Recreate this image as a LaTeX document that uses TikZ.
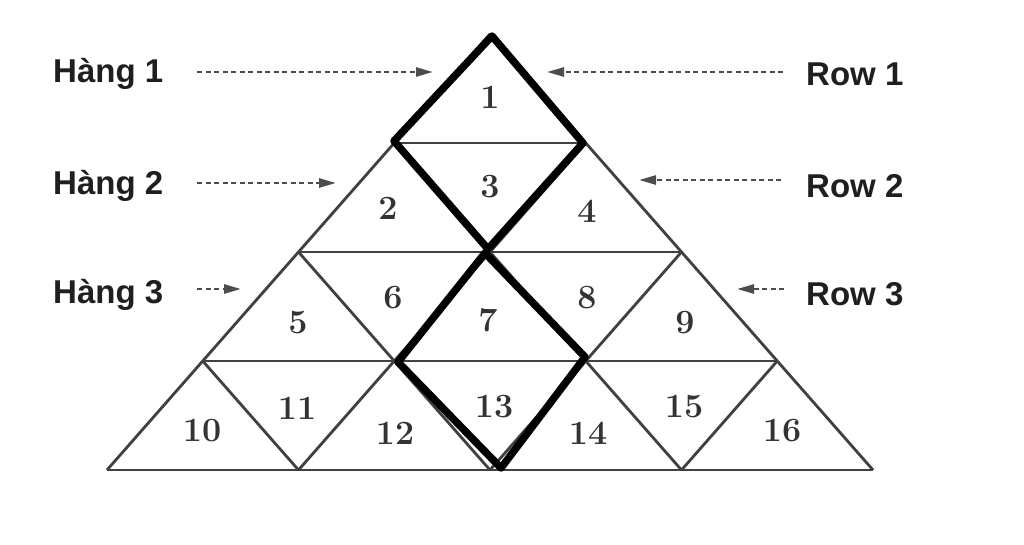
\documentclass[tikz,border=0pt]{standalone}
\usepackage{fontspec}
\newfontfamily\lblfont{Liberation Sans}
\usetikzlibrary{arrows.meta}
\begin{document}
\begin{tikzpicture}[x=1pt,y=-1pt,
  gridline/.style={draw=black!75,line width=2.8pt},
  bold/.style={draw=black,line width=7.5pt,line join=round},
  rowarrow/.style={draw=black!70,line width=2.6pt,dash pattern=on 5pt off 3.5pt,
    -{Triangle[length=17pt,width=9pt]}},
  lbl/.style={font=\lblfont\bfseries\fontsize{33}{36}\selectfont,text=black!88,inner sep=0pt,anchor=west},
  num/.style={font=\bfseries\fontsize{34}{36}\selectfont,text=black!80,inner sep=0pt}]
\useasboundingbox[fill=white] (0,0) rectangle (1024,544);
% triangular grid
\foreach \k in {1,2,3,4}{
  \pgfmathsetmacro{\yy}{34+109*\k}
  \pgfmathsetmacro{\xa}{490-95.75*\k}
  \pgfmathsetmacro{\xb}{490+95.75*\k}
  \draw[gridline] (\xa,\yy) -- (\xb,\yy);
}
\foreach \i in {0,1,2,3}{
  \pgfmathsetmacro{\bx}{107+191.5*\i}
  \pgfmathsetmacro{\ex}{490+95.75*\i}
  \pgfmathsetmacro{\ey}{34+109*\i}
  \draw[gridline] (\bx,470) -- (\ex,\ey);
  \pgfmathsetmacro{\cx}{873-191.5*\i}
  \pgfmathsetmacro{\fx}{490-95.75*\i}
  \draw[gridline] (\cx,470) -- (\fx,\ey);
}
% bold diamonds
\draw[bold] (492,36) -- (394,141) -- (488,249) -- (583,143) -- cycle;
\draw[bold] (485,253) -- (398,362) -- (501,468) -- (585,357) -- cycle;
% numbers
\node[num] (n1) at (490,97) {1};
\node[num] (n2) at (388,208) {2};
\node[num] (n3) at (490,187) {3};
\node[num] (n4) at (587,211) {4};
\node[num] (n5) at (298,323) {5};
\node[num] (n6) at (393,298) {6};
\node[num] (n7) at (488,320) {7};
\node[num] (n8) at (587,298) {8};
\node[num] (n9) at (685,323) {9};
\node[num] (n10) at (202,431) {10};
\node[num] (n11) at (297,408) {11};
\node[num] (n12) at (395,433) {12};
\node[num] (n13) at (494,407) {13};
\node[num] (n14) at (588,433) {14};
\node[num] (n15) at (684,407) {15};
\node[num] (n16) at (782,431) {16};
% labels
\node[lbl] (h1) at (53,74) {Hàng 1};
\node[lbl] (h2) at (53,186) {Hàng 2};
\node[lbl] (h3) at (53,295) {Hàng 3};
\node[lbl] (r1) at (806,74) {Row 1};
\node[lbl] (r2) at (806,186) {Row 2};
\node[lbl] (r3) at (806,294) {Row 3};
% arrow ends
\coordinate (h1s) at (197,72); \coordinate (h1e) at (433,72);
\coordinate (h2s) at (197,183); \coordinate (h2e) at (336,183);
\coordinate (h3s) at (197,289); \coordinate (h3e) at (241,289);
\coordinate (r1s) at (783,72); \coordinate (r1e) at (547,72);
\coordinate (r2s) at (781,180); \coordinate (r2e) at (639,180);
\coordinate (r3s) at (784,289); \coordinate (r3e) at (737,289);
\draw[rowarrow] (h1s) -- (h1e);
\draw[rowarrow] (h2s) -- (h2e);
\draw[rowarrow] (h3s) -- (h3e);
\draw[rowarrow] (r1s) -- (r1e);
\draw[rowarrow] (r2s) -- (r2e);
\draw[rowarrow] (r3s) -- (r3e);
\end{tikzpicture}
\end{document}
